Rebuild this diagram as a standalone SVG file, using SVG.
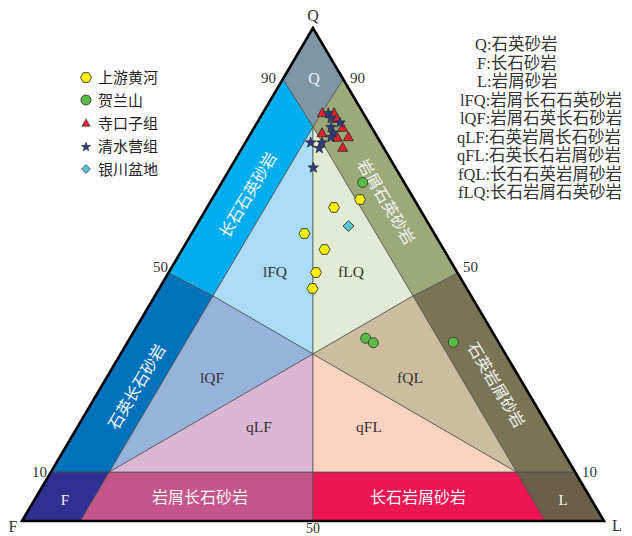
<svg xmlns="http://www.w3.org/2000/svg" xmlns:xlink="http://www.w3.org/1999/xlink" width="632" height="536" viewBox="0 0 632 536">
<style>
.r{stroke:#4a4a4a;stroke-width:0.7;stroke-linejoin:round}
.t{font-family:"Liberation Serif","Noto Sans CJK SC",serif;fill:#333}
.w{font-family:"Liberation Serif","Noto Sans CJK SC",serif;fill:#f4f4f4}
.cj{font-family:"Noto Sans CJK SC","Liberation Serif",sans-serif;fill:#222}
.m{stroke:#333;stroke-width:0.9}
</style>
<defs>
<polygon id="hex" class="m" fill="#fff200" points="5.5,0 2.75,-4.8 -2.75,-4.8 -5.5,0 -2.75,4.8 2.75,4.8"/>
<circle id="cir" class="m" fill="#5cba47" r="5"/>
<polygon id="tri" class="m" fill="#e8212b" points="0,-5 5,4 -5,4"/>
<polygon id="star" class="m" fill="#2c3a8c" points="0,-5.5 1.3,-1.8 5.2,-1.7 2.1,0.7 3.2,4.5 0,2.2 -3.2,4.5 -2.1,0.7 -5.2,-1.7 -1.3,-1.8"/>
<polygon id="dia" class="m" fill="#58c4d2" points="0,-5.5 5.5,0 0,5.5 -5.5,0"/>
</defs>
<rect width="632" height="536" fill="#ffffff"/>

<g id="fields">
<polygon class="r" fill="#7f96a6" points="313,28 282.9,79 313,127 343.1,79"/>
<polygon class="r" fill="#00aeef" points="282.9,79 168.4,273 213,296 313,127"/>
<polygon class="r" fill="#0071bb" points="168.4,273 50.9,472 109.4,472 213,296"/>
<polygon class="r" fill="#2e3192" points="50.9,472 22,521 80.5,521 109.4,472"/>
<polygon class="r" fill="#c5568a" points="109.4,472 80.5,521 313,521 313,472"/>
<polygon class="r" fill="#ec1654" points="313,472 313,521 545.5,521 516.6,472"/>
<polygon class="r" fill="#6a5f48" points="516.6,472 545.5,521 604,521 575.1,472"/>
<polygon class="r" fill="#787454" points="457.6,273 413,296 516.6,472 575.1,472"/>
<polygon class="r" fill="#9caa7b" points="343.1,79 313,127 413,296 457.6,273"/>
<polygon class="r" fill="#aadcf6" points="313,127 213,296 313,354"/>
<polygon class="r" fill="#e2ebd3" points="313,127 313,354 413,296"/>
<polygon class="r" fill="#96b3dc" points="213,296 109.4,472 313,354"/>
<polygon class="r" fill="#dcb7d4" points="109.4,472 313,472 313,354"/>
<polygon class="r" fill="#fbd3c1" points="313,354 313,472 516.6,472"/>
<polygon class="r" fill="#cbbe9e" points="313,354 516.6,472 413,296"/>
</g>

<g id="frame">
<polygon points="313,28 22,521 604,521" fill="none" stroke="#000" stroke-width="2.6" stroke-linejoin="miter"/>
</g>

<g id="axis-labels" font-size="15">
<text class="t" x="313" y="21" text-anchor="middle" font-size="16">Q</text>
<text class="t" x="13" y="532" text-anchor="middle" font-size="16">F</text>
<text class="t" x="617" y="531" text-anchor="middle" font-size="16">L</text>
<text class="t" x="276" y="83" text-anchor="end">90</text>
<text class="t" x="350" y="83">90</text>
<text class="t" x="168" y="272" text-anchor="end">50</text>
<text class="t" x="463" y="272">50</text>
<text class="t" x="47" y="477" text-anchor="end">10</text>
<text class="t" x="582" y="477">10</text>
<text class="t" x="313" y="533" text-anchor="middle" font-size="14">50</text>
</g>

<g id="field-labels">
<text class="w" x="314" y="84" text-anchor="middle" font-size="16">Q</text>
<text class="w" x="65" y="505" text-anchor="middle" font-size="15">F</text>
<text class="w" x="563" y="505" text-anchor="middle" font-size="15">L</text>
<text class="w" x="200" y="503" text-anchor="middle" font-size="16">岩屑长石砂岩</text>
<text class="w" x="418" y="503" text-anchor="middle" font-size="16">长石岩屑砂岩</text>
<text class="w" font-size="16" text-anchor="middle" transform="translate(248,195) rotate(-59.4)" dy="5.5">长石石英砂岩</text>
<text class="w" font-size="16" text-anchor="middle" transform="translate(137,387) rotate(-59.4)" dy="5.5">石英长石砂岩</text>
<text class="w" font-size="16" text-anchor="middle" transform="translate(386,202) rotate(59.4)" dy="5.5">岩屑石英砂岩</text>
<text class="w" font-size="16" text-anchor="middle" transform="translate(496,385) rotate(59.4)" dy="5.5">石英岩屑砂岩</text>
<g font-size="15.5">
<text class="t" x="275" y="277" text-anchor="middle">lFQ</text>
<text class="t" x="351" y="277" text-anchor="middle">fLQ</text>
<text class="t" x="212" y="383" text-anchor="middle">lQF</text>
<text class="t" x="410" y="383" text-anchor="middle">fQL</text>
<text class="t" x="259" y="432" text-anchor="middle">qLF</text>
<text class="t" x="369" y="432" text-anchor="middle">qFL</text>
</g>
</g>

<g id="data">
<use xlink:href="#hex" x="360" y="199.5"/>
<use xlink:href="#hex" x="334" y="207.5"/>
<use xlink:href="#hex" x="304.5" y="233.5"/>
<use xlink:href="#hex" x="324.5" y="249.5"/>
<use xlink:href="#hex" x="316" y="272.5"/>
<use xlink:href="#hex" x="312.5" y="288.5"/>
<use xlink:href="#cir" x="362.7" y="182.5"/>
<use xlink:href="#cir" x="365.7" y="338.3"/>
<use xlink:href="#cir" x="373.3" y="342.7"/>
<use xlink:href="#cir" x="453.3" y="342.3"/>
<use xlink:href="#dia" x="348.5" y="226"/>
<use xlink:href="#tri" x="322.3" y="112.7"/>
<use xlink:href="#tri" x="334" y="112.7"/>
<use xlink:href="#tri" x="336.7" y="118.3"/>
<use xlink:href="#tri" x="342.7" y="127.3"/>
<use xlink:href="#tri" x="322" y="132.7"/>
<use xlink:href="#tri" x="337.3" y="137.3"/>
<use xlink:href="#tri" x="348.3" y="136.7"/>
<use xlink:href="#tri" x="342.7" y="147.3"/>
<use xlink:href="#star" x="328.3" y="113.3"/>
<use xlink:href="#star" x="331" y="118.3"/>
<use xlink:href="#star" x="340" y="122.7"/>
<use xlink:href="#star" x="331" y="127.3"/>
<use xlink:href="#star" x="333.3" y="132.7"/>
<use xlink:href="#star" x="331" y="137.3"/>
<use xlink:href="#star" x="310.7" y="142.7"/>
<use xlink:href="#star" x="322" y="142.7"/>
<use xlink:href="#star" x="319.3" y="148.3"/>
<use xlink:href="#star" x="313.3" y="167.7"/>
</g>

<g id="legend-symbols" font-size="15">
<use xlink:href="#hex" x="86" y="77.5"/>
<text class="cj" x="98" y="83">上游黄河</text>
<use xlink:href="#cir" x="86" y="100"/>
<text class="cj" x="98" y="106">贺兰山</text>
<g transform="translate(86,123) scale(0.8)"><use xlink:href="#tri"/></g>
<text class="cj" x="98" y="129">寺口子组</text>
<g transform="translate(86,147) scale(0.85)"><use xlink:href="#star"/></g>
<text class="cj" x="98" y="152">清水营组</text>
<g transform="translate(86,169) scale(0.8)"><use xlink:href="#dia"/></g>
<text class="cj" x="98" y="175">银川盆地</text>
</g>

<g id="legend-codes" font-size="16.5">
<text class="t" x="475" y="50">Q:石英砂岩</text>
<text class="t" x="477" y="68.5">F:长石砂岩</text>
<text class="t" x="477" y="87">L:岩屑砂岩</text>
<text class="t" x="460" y="105.5">lFQ:岩屑长石石英砂岩</text>
<text class="t" x="460" y="124">lQF:岩屑石英长石砂岩</text>
<text class="t" x="457" y="142.5">qLF:石英岩屑长石砂岩</text>
<text class="t" x="457" y="161">qFL:石英长石岩屑砂岩</text>
<text class="t" x="458" y="179.5">fQL:长石石英岩屑砂岩</text>
<text class="t" x="458" y="198">fLQ:长石岩屑石英砂岩</text>
</g>
</svg>
